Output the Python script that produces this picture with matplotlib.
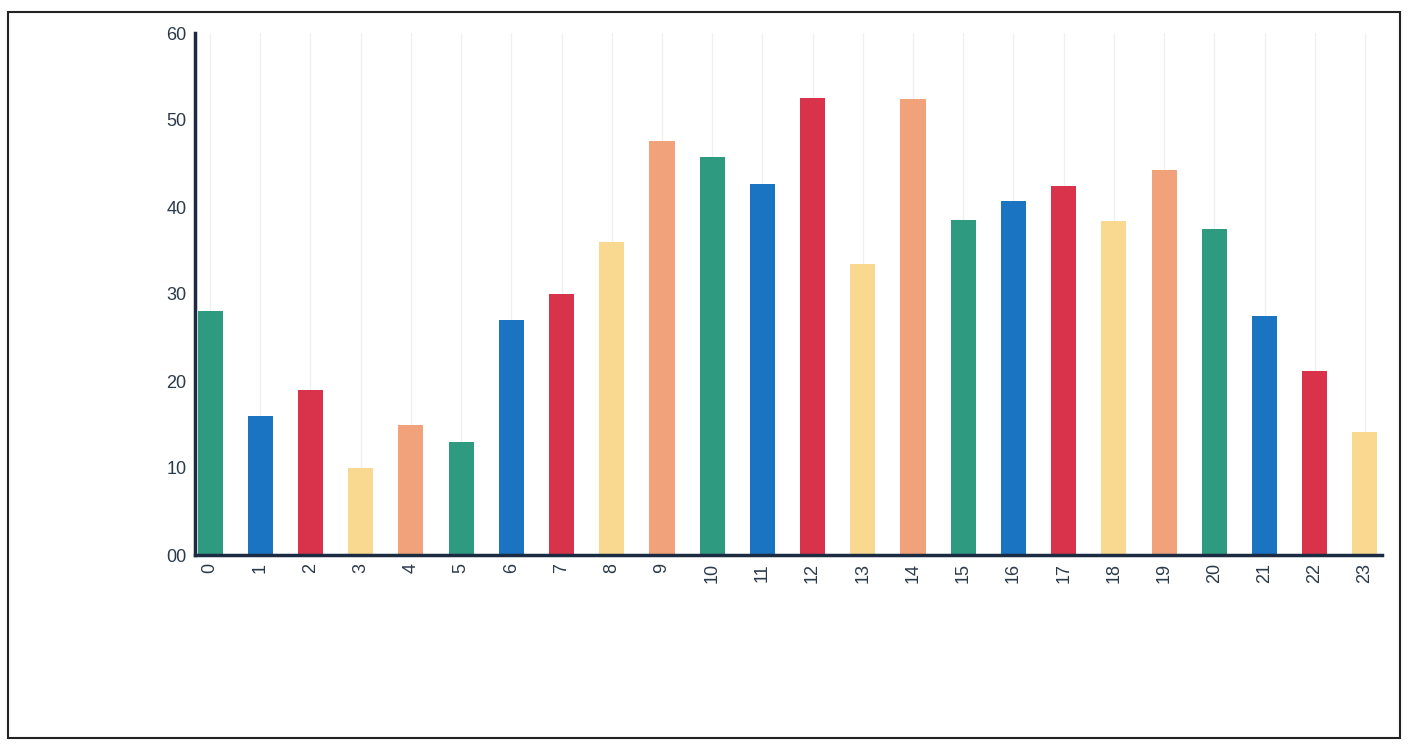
import matplotlib
matplotlib.use('Agg')
import matplotlib.pyplot as plt
from matplotlib.patches import Rectangle

plt.rcParams['font.family'] = ['Liberation Sans', 'DejaVu Sans']

# data
hours = [str(h) for h in range(24)]
values = [28, 16, 19, 10, 15, 13, 27, 30, 36, 47.6, 45.7, 42.6,
          52.5, 33.4, 52.4, 38.5, 40.7, 42.4, 38.4, 44.3, 37.5, 27.5, 21.1, 14.1]
palette = ['#2e9a80', '#1a74c2', '#d9334b', '#f9d98f', '#f2a27a']
yticks = [0, 10, 20, 30, 40, 50, 60]
ytick_labels = ['%02d' % t for t in yticks]

fig = plt.figure(figsize=(14.12, 7.44), dpi=100)
ax = fig.add_axes([195 / 1412, 1 - 555 / 744, (1382 - 195) / 1412, (555 - 33) / 744])

colors = [palette[i % len(palette)] for i in range(len(values))]
x = list(range(len(values)))
ax.bar(x, values, width=0.5, color=colors, zorder=3)

ax.set_xlim(-0.3, 23.34)
ax.set_ylim(0, 60)
ax.set_xticks(x)
ax.set_xticklabels(hours, rotation=90, fontsize=13, color='#2b3a4a')
ax.set_yticks(yticks)
ax.set_yticklabels(ytick_labels, fontsize=13, color='#2b3a4a')
ax.tick_params(length=0, pad=6)

ax.grid(axis='x', color='#eef0f2', linewidth=1, zorder=0)
for s in ['top', 'right']:
    ax.spines[s].set_visible(False)
for s in ['left', 'bottom']:
    ax.spines[s].set_color('#1b2b42')
    ax.spines[s].set_linewidth(2.5)
    ax.spines[s].set_zorder(5)

# outer frame of the scanned page
fig.patches.append(Rectangle((8 / 1412, 1 - 738 / 744), (1400 - 8) / 1412, (738 - 12) / 744,
                             transform=fig.transFigure, fill=False, edgecolor='#222222', linewidth=1.5))

fig.savefig('out.png', dpi=100)
